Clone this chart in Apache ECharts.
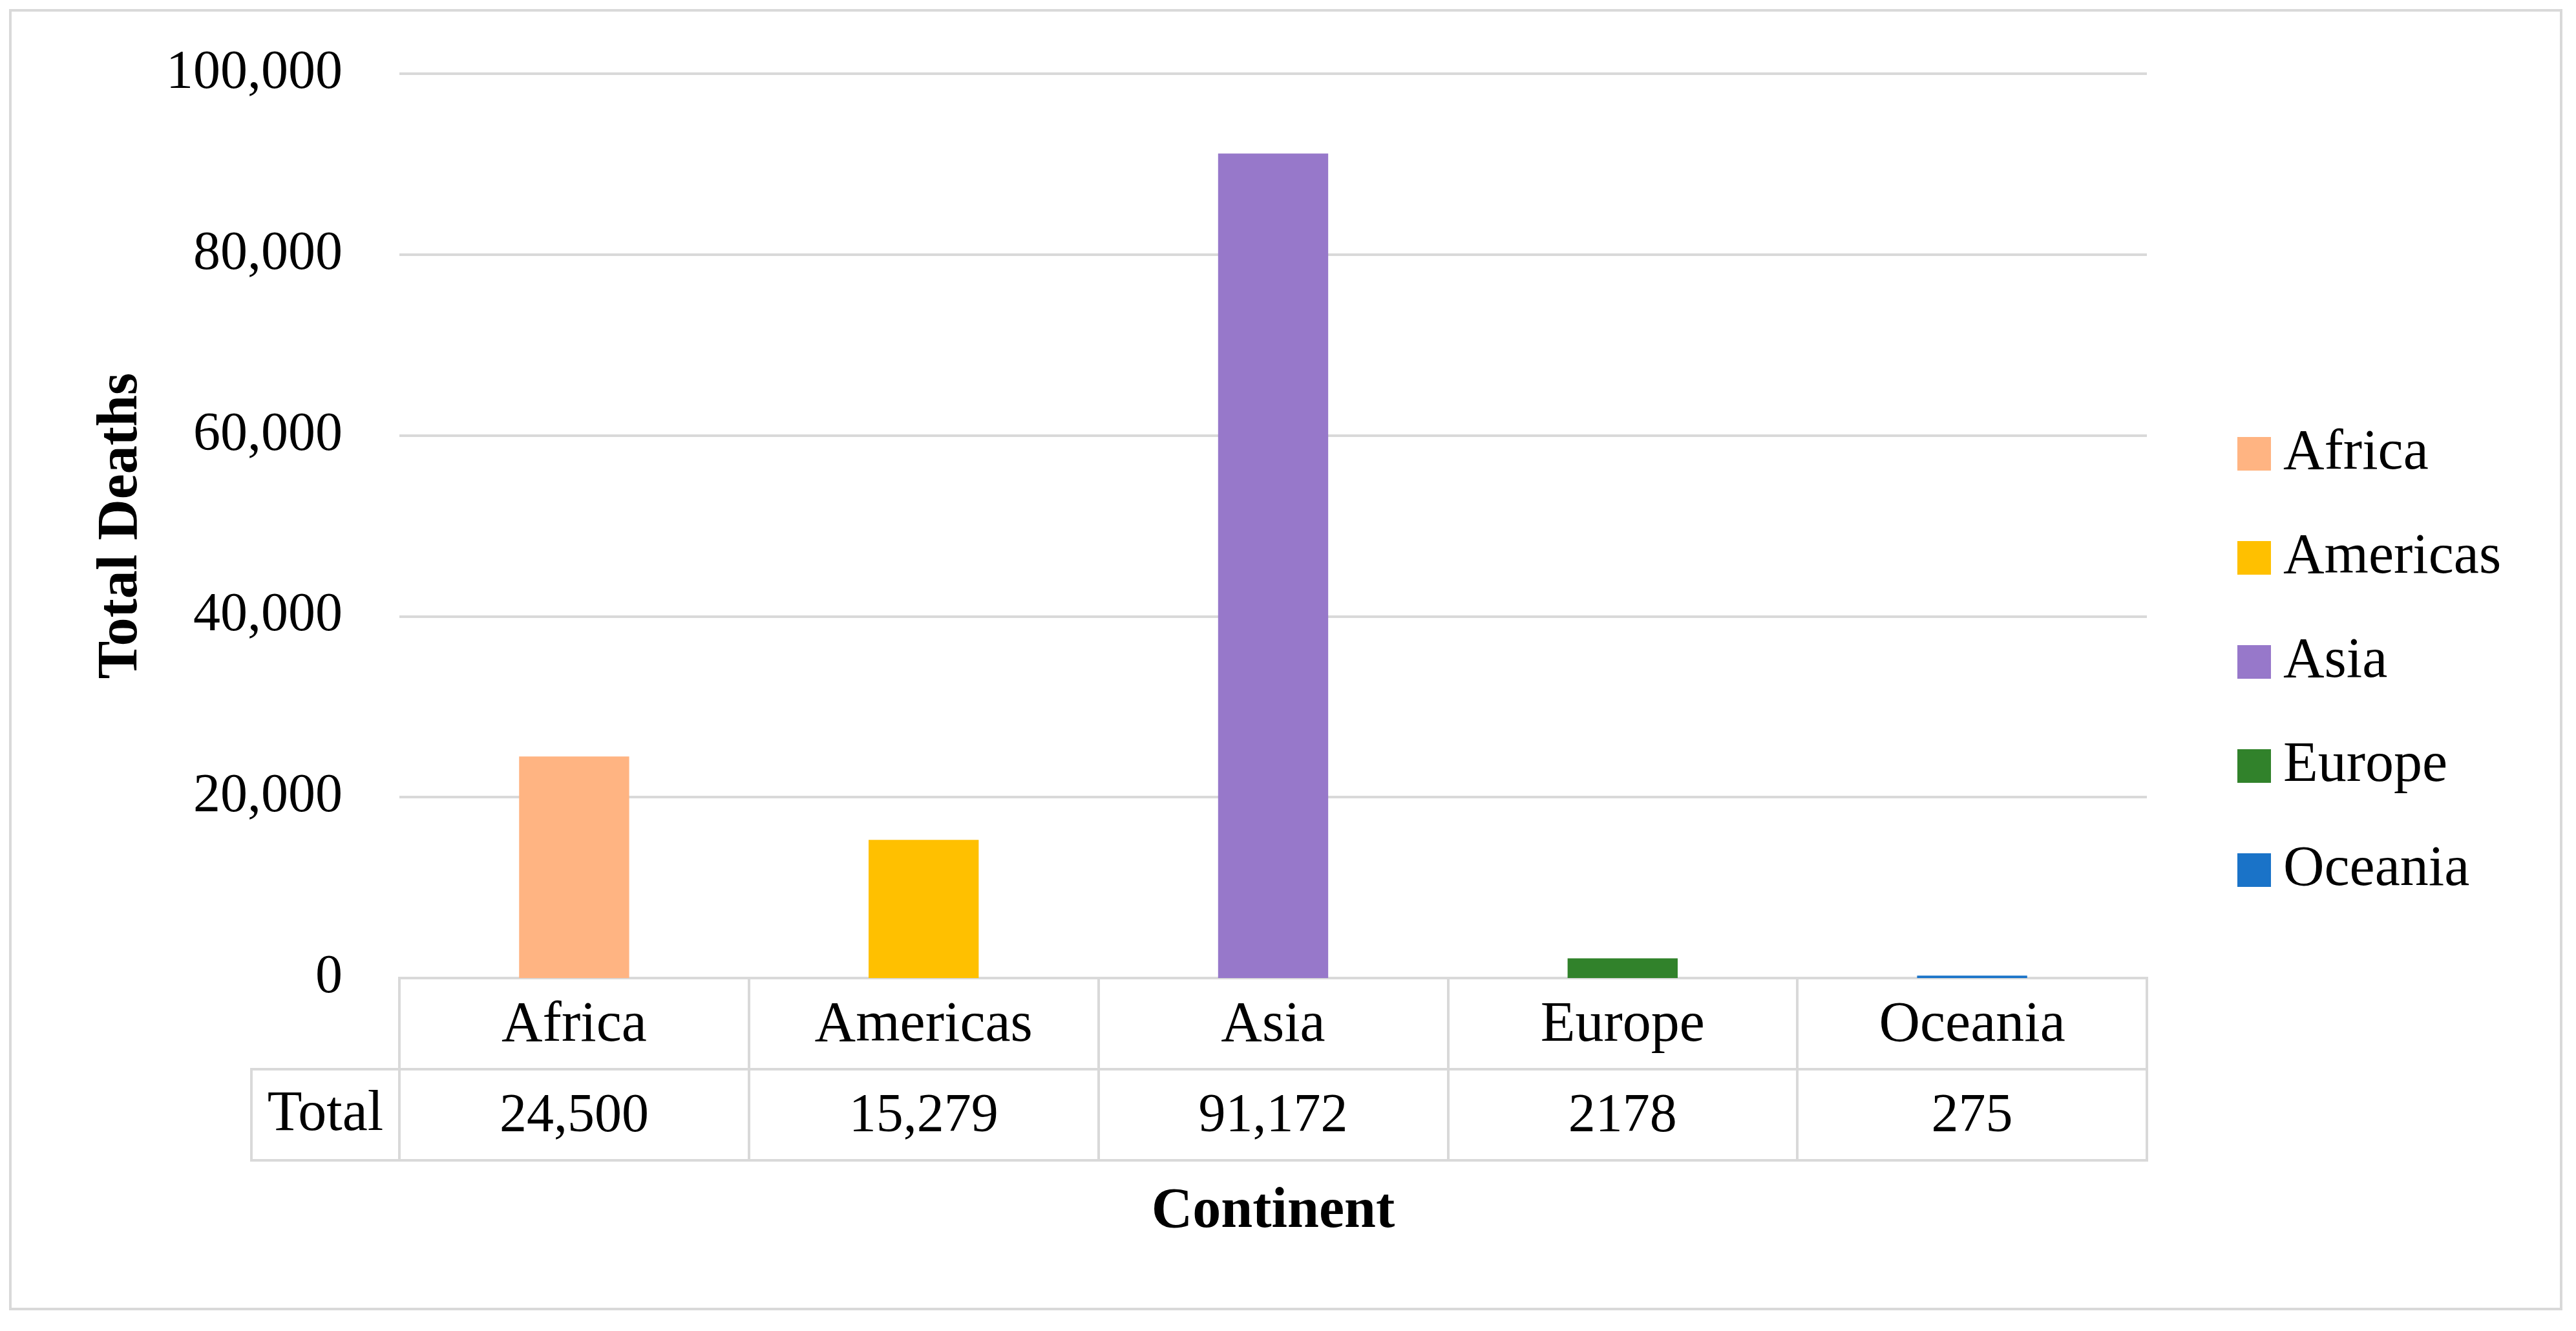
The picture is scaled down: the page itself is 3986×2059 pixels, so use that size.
<!DOCTYPE html>
<html>
<head>
<meta charset="utf-8">
<script src="https://cdn.jsdelivr.net/npm/echarts@6/dist/echarts.min.js"></script>
<style>
  html, body { margin: 0; padding: 0; background: #fff; }
  #chart { width: 3986px; height: 2059px; }
</style>
</head>
<body>
<div id="chart"></div>
<script>
// ---- data ----
const categories = ['Africa', 'Americas', 'Asia', 'Europe', 'Oceania'];
const totals = [24500, 15279, 91172, 2178, 275];
const totalsText = ['24,500', '15,279', '91,172', '2178', '275'];
const colors = ['#FFB482', '#FFC000', '#9778CA', '#31822B', '#1A73C8'];
const rowLabels = ['', 'Total'];
const yTicks = { min: 0, max: 100000, interval: 20000 };

// ---- layout constants ----
const FONT = 'Liberation Serif';
const GRID_LEFT = 618, GRID_RIGHT_X = 3322, GRID_TOP = 114, GRID_BOTTOM_Y = 1513;
const TABLE_H = 282;
const LINE = '#d9d9d9';

const chart = echarts.init(document.getElementById('chart'), null, { renderer: 'canvas' });

const barSeries = categories.map((c, i) => ({
  name: c,
  type: 'bar',
  stack: 'all',
  xAxisIndex: 0,
  yAxisIndex: 0,
  barWidth: '31.5%',
  itemStyle: { color: colors[i] },
  data: categories.map((_, j) => (j === i ? totals[i] : '-'))
}));

const tableData = [];
categories.forEach((c, i) => {
  tableData.push({ name: c, value: [c, rowLabels[0]], label: { fontSize: 88 } });
  tableData.push({ name: totalsText[i], value: [c, rowLabels[1]], label: { fontSize: 84 } });
});

const rowH = TABLE_H / 2;
const totalCellLeft = 389;

const option = {
  backgroundColor: '#fff',
  animation: false,
  textStyle: { fontFamily: FONT },
  grid: [
    { left: GRID_LEFT, top: GRID_TOP, width: GRID_RIGHT_X - GRID_LEFT, height: GRID_BOTTOM_Y - GRID_TOP },
    { left: GRID_LEFT, top: GRID_BOTTOM_Y, width: GRID_RIGHT_X - GRID_LEFT, height: TABLE_H,
      show: true, borderColor: LINE, borderWidth: 4, backgroundColor: 'transparent' }
  ],
  xAxis: [
    { type: 'category', gridIndex: 0, data: categories,
      axisLine: { show: true, lineStyle: { color: LINE, width: 4 } },
      axisTick: { show: false }, axisLabel: { show: false }, splitLine: { show: false } },
    { type: 'category', gridIndex: 1, data: categories, position: 'bottom',
      axisLine: { show: false }, axisTick: { show: false }, axisLabel: { show: false },
      splitLine: { show: true, interval: 0, lineStyle: { color: LINE, width: 4 } },
      name: 'Continent', nameLocation: 'middle', nameGap: 36,
      nameTextStyle: { fontFamily: FONT, fontWeight: 'bold', fontSize: 88, color: '#000', verticalAlign: 'top' } }
  ],
  yAxis: [
    { type: 'value', gridIndex: 0, min: yTicks.min, max: yTicks.max, interval: yTicks.interval,
      axisLine: { show: false }, axisTick: { show: false },
      axisLabel: { fontFamily: FONT, fontSize: 84, color: '#000', margin: 88,
        formatter: v => v.toLocaleString('en-US') },
      splitLine: { show: true, lineStyle: { color: LINE, width: 4 } },
      name: 'Total Deaths', nameLocation: 'middle', nameGap: 386, nameRotate: 90,
      nameTextStyle: { fontFamily: FONT, fontWeight: 'bold', fontSize: 88, color: '#000' } },
    { type: 'category', gridIndex: 1, data: rowLabels, inverse: true,
      axisLine: { show: false }, axisTick: { show: false },
      axisLabel: { fontFamily: FONT, fontSize: 88, color: '#000', align: 'center',
        margin: (GRID_LEFT - totalCellLeft) / 2 },
      splitLine: { show: true, interval: 0, lineStyle: { color: LINE, width: 4 } } }
  ],
  legend: {
    orient: 'vertical', left: 3457, top: 653,
    itemWidth: 52, itemHeight: 52, itemGap: 73, icon: 'rect',
    data: categories,
    textStyle: { fontFamily: FONT, fontSize: 88, color: '#000', padding: [0, 0, 0, 14] }
  },
  series: barSeries.concat([{
    type: 'scatter', xAxisIndex: 1, yAxisIndex: 1, symbol: 'rect', symbolSize: 1,
    itemStyle: { color: 'rgba(0,0,0,0)', opacity: 1 }, silent: true,
    label: { show: true, position: 'inside', formatter: '{b}', fontFamily: FONT, color: '#000',
      opacity: 1, textBorderWidth: 0, textBorderColor: 'transparent', offset: [0, 3] },
    data: tableData
  }]),
  graphic: [
    { type: 'rect', shape: { x: 16, y: 16, width: 3947, height: 2009 },
      style: { fill: 'none', stroke: LINE, lineWidth: 4 }, z: 100 },
    { type: 'rect', shape: { x: totalCellLeft, y: GRID_BOTTOM_Y + rowH, width: GRID_LEFT - totalCellLeft, height: rowH },
      style: { fill: 'none', stroke: LINE, lineWidth: 4 }, z: 100 }
  ]
};

chart.setOption(option);
</script>
</body>
</html>
